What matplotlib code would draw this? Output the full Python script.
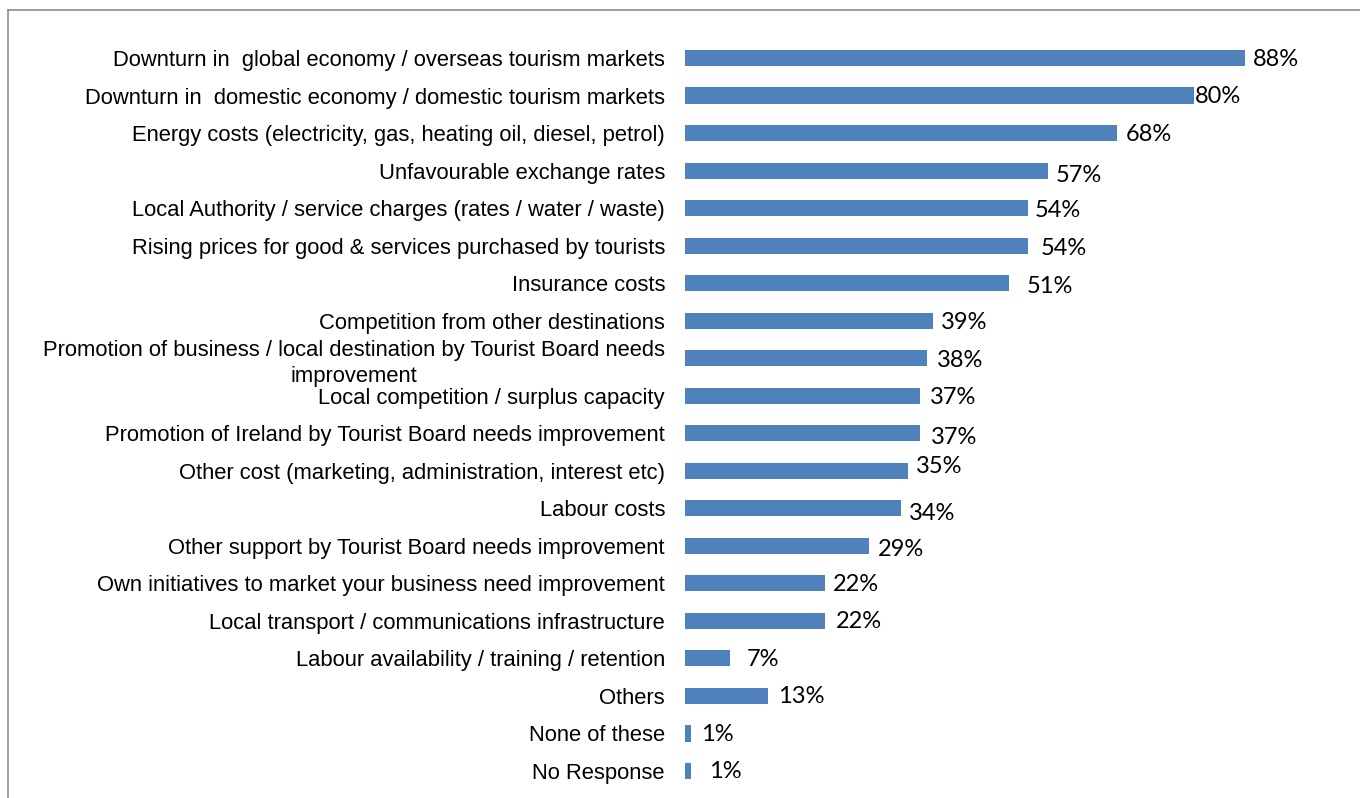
import matplotlib
matplotlib.use("Agg")
import matplotlib.pyplot as plt
from matplotlib import font_manager
from matplotlib.lines import Line2D

# data
categories = [
    "Downturn in  global economy / overseas tourism markets",
    "Downturn in  domestic economy / domestic tourism markets",
    "Energy costs (electricity, gas, heating oil, diesel, petrol)",
    "Unfavourable exchange rates",
    "Local Authority / service charges (rates / water / waste)",
    "Rising prices for good & services purchased by tourists",
    "Insurance costs",
    "Competition from other destinations",
    "Promotion of business / local destination by Tourist Board needs\nimprovement",
    "Local competition / surplus capacity",
    "Promotion of Ireland by Tourist Board needs improvement",
    "Other cost (marketing, administration, interest etc)",
    "Labour costs",
    "Other support by Tourist Board needs improvement",
    "Own initiatives to market your business need improvement",
    "Local transport / communications infrastructure",
    "Labour availability / training / retention",
    "Others",
    "None of these",
    "No Response",
]
values = [88, 80, 68, 57, 54, 54, 51, 39, 38, 37, 37, 35, 34, 29, 22, 22, 7, 13, 1, 1]

# label nudges in pixels (dx from bar end, dy downwards) to mimic the original placement
label_dx = [8, 1, 8, 8, 6, 12, 17, 8, 10, 10, 11, 8, 8, 8, 8, 11, 17, 10, 10, 18]
label_dy = [1, 1, 1, 5, 2, 3, 3, 2, 2, 2, 4, -4, 5, 4, 1, 1, 1, 1, 1, 1]

names = {f.name for f in font_manager.fontManager.ttflist}
cat_font = "Liberation Sans Narrow" if "Liberation Sans Narrow" in names else "Liberation Sans"
val_font = "Lato" if "Lato" in names else "DejaVu Sans"

W, H, DPI = 1360, 798, 100
fig = plt.figure(figsize=(W / DPI, H / DPI), dpi=DPI)

# axes placed in pixel terms: x=0 at 685px, 100% at 1321px; rows from y=58 to y=771
x0, x1 = 685, 1321
ytop, ybot = 58 - 18.75, 771 + 18.75
ax = fig.add_axes([x0 / W, 1 - ybot / H, (x1 - x0) / W, (ybot - ytop) / H])

pos = list(range(len(categories)))
ax.barh(pos, values, height=0.43, color="#4F81BD")
ax.set_xlim(0, 100)
ax.set_ylim(len(categories) - 0.5, -0.5)

ax.set_yticks(pos)
ax.set_yticklabels(categories, fontsize=15.8, family=cat_font)
for t in ax.get_yticklabels():
    t.set_multialignment("center")
    t.set_linespacing(1.3)
ax.tick_params(axis="y", length=0, pad=14.4)
ax.set_xticks([])
for s in ax.spines.values():
    s.set_visible(False)

for i, v in enumerate(values):
    ax.annotate(f"{v}%", xy=(v, i), xytext=(label_dx[i] * 0.72, -label_dy[i] * 0.72),
                textcoords="offset points", ha="left", va="center",
                fontsize=17, family=val_font, color="black")

# frame line at left and top of the chart area
fig.add_artist(Line2D([8 / W, 8 / W], [0, 1 - 10 / H], color="#8c8c8c", lw=1.2))
fig.add_artist(Line2D([8 / W, 1], [1 - 10 / H, 1 - 10 / H], color="#8c8c8c", lw=1.2))

fig.savefig("out.png", dpi=DPI)
